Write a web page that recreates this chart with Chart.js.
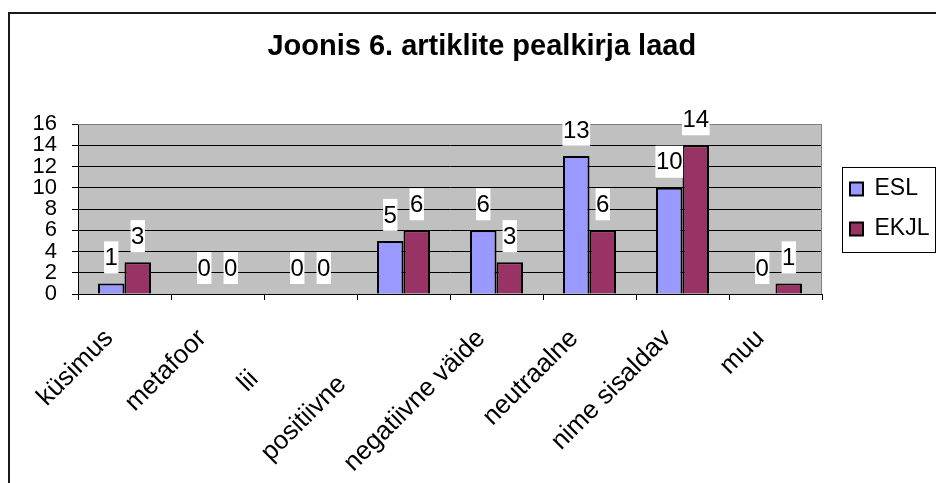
<!DOCTYPE html>
<html>
<head>
<meta charset="utf-8">
<script src="https://cdn.jsdelivr.net/npm/chart.js@4.4.1/dist/chart.umd.min.js"></script>
<style>
  html, body { margin: 0; padding: 0; background: #fff; overflow: hidden; }
  #frame { position: absolute; left: 8px; top: 12px; width: 940px; height: 480px; border: 2px solid #1a1a1a; }
  #wrap { position: absolute; left: 0; top: 0; width: 936px; height: 483px; }
</style>
</head>
<body>
<div id="frame"></div>
<div id="wrap"><canvas id="chart" width="936" height="483"></canvas></div>
<script>
const categories = ["küsimus", "metafoor", "lii", "positiivne", "negatiivne väide", "neutraalne", "nime sisaldav", "muu"];
const eslValues = [1, 0, 0, 5, 6, 13, 10, 0];
const ekjlValues = [3, 0, 0, 6, 3, 6, 14, 1];
const yMin = 0;
const yMax = 16;
const yStep = 2;

// Excel pushed two labels down their own line so they would not overlap
const labelShift = [3, 3, 11, 12, 3, 3, 3, 3];

const FONT = "'Liberation Sans', Arial, sans-serif";

const plotFrame = {
  id: "plotFrame",
  beforeDraw(chart) {
    const { ctx, chartArea: a } = chart;
    ctx.save();
    ctx.fillStyle = "#c0c0c0";
    ctx.fillRect(a.left, a.top, a.right - a.left, a.bottom - a.top);
    ctx.restore();
  },
  afterDatasetsDraw(chart) {
    const { ctx, chartArea: a } = chart;
    ctx.save();
    ctx.strokeStyle = "#808080";
    ctx.lineWidth = 1;
    ctx.beginPath();
    ctx.moveTo(a.left, a.top + 0.5);
    ctx.lineTo(a.right - 0.5, a.top + 0.5);
    ctx.lineTo(a.right - 0.5, a.bottom);
    ctx.stroke();
    ctx.restore();
  },
};

const valueLabels = {
  id: "valueLabels",
  afterDatasetsDraw(chart) {
    const ctx = chart.ctx;
    ctx.save();
    ctx.font = "24px " + FONT;
    ctx.textAlign = "center";
    ctx.textBaseline = "middle";
    chart.data.datasets.forEach((ds, di) => {
      chart.getDatasetMeta(di).data.forEach((bar, i) => {
        const txt = String(ds.data[i]);
        const w = ctx.measureText(txt).width + 1;
        const h = 32;
        const bottom = bar.y - 10;
        ctx.fillStyle = "#fff";
        ctx.fillRect(bar.x - w / 2, bottom - h, w, h);
        ctx.fillStyle = "#000";
        ctx.fillText(txt, bar.x, bottom - h / 2 + 1);
      });
    });
    ctx.restore();
  },
};

const legendFrame = {
  id: "legendFrame",
  afterDraw(chart) {
    const hb = chart.legend.legendHitBoxes;
    if (!hb || !hb.length) return;
    const ctx = chart.ctx;
    const last = hb[hb.length - 1];
    const left = hb[0].left - 8;
    const top = hb[0].top - 11;
    const bottom = last.top + last.height + 11;
    ctx.save();
    ctx.strokeStyle = "#000";
    ctx.lineWidth = 1;
    ctx.strokeRect(Math.round(left) + 0.5, Math.round(top) + 0.5, 935 - Math.round(left), Math.round(bottom - top));
    ctx.restore();
  },
};

new Chart(document.getElementById("chart"), {
  type: "bar",
  data: {
    labels: categories,
    datasets: [
      {
        label: "ESL",
        data: eslValues,
        backgroundColor: "#9999ff",
        borderColor: "#000",
        borderWidth: 2,
        yAxisID: "y",
      },
      {
        label: "EKJL",
        data: ekjlValues,
        backgroundColor: "#993366",
        borderColor: "#000",
        borderWidth: 2,
        yAxisID: "y",
      },
    ],
  },
  options: {
    responsive: false,
    animation: false,
    categoryPercentage: 0.57,
    barPercentage: 1,
    layout: { padding: { left: 24, right: -3.5, top: 0, bottom: 0 } },
    scales: {
      x: {
        grid: { drawOnChartArea: false, color: "#000", tickLength: 6, offset: true },
        border: { color: "#000", width: 1 },
        ticks: {
          autoSkip: false,
          minRotation: 45,
          maxRotation: 45,
          padding: 8,
          color: "#000",
          font: { family: FONT, size: 26 },
          callback: (v, i) => categories[i] + " ".repeat(labelShift[i]),
        },
        afterFit: (s) => { s.height = 189; },
      },
      y: {
        min: yMin,
        max: yMax,
        grid: {
          color: (c) => (c.tick && c.tick.value === yMax ? "#808080" : "#000"),
          tickColor: "#000",
          tickLength: 6,
        },
        border: { color: "#000", width: 1 },
        ticks: {
          stepSize: yStep,
          autoSkip: false,
          padding: 15,
          color: "#000",
          font: { family: FONT, size: 22 },
        },
        afterFit: (s) => { s.width = 54; },
      },
      gap: {
        axis: "y",
        position: "right",
        grid: { display: false },
        border: { display: false },
        ticks: { display: false },
        afterFit: (s) => { s.width = 11; },
      },
    },
    plugins: {
      title: {
        display: true,
        text: "Joonis 6. artiklite pealkirja laad",
        color: "#000",
        font: { family: FONT, size: 29, weight: "bold" },
        padding: { top: 29.6, bottom: 59.6 },
      },
      legend: {
        position: "right",
        fullSize: false,
        labels: {
          boxWidth: 13,
          boxHeight: 13,
          padding: 17,
          color: "#000",
          font: { family: FONT, size: 23 },
        },
      },
      tooltip: { enabled: false },
    },
  },
  plugins: [plotFrame, valueLabels, legendFrame],
});
</script>
</body>
</html>
